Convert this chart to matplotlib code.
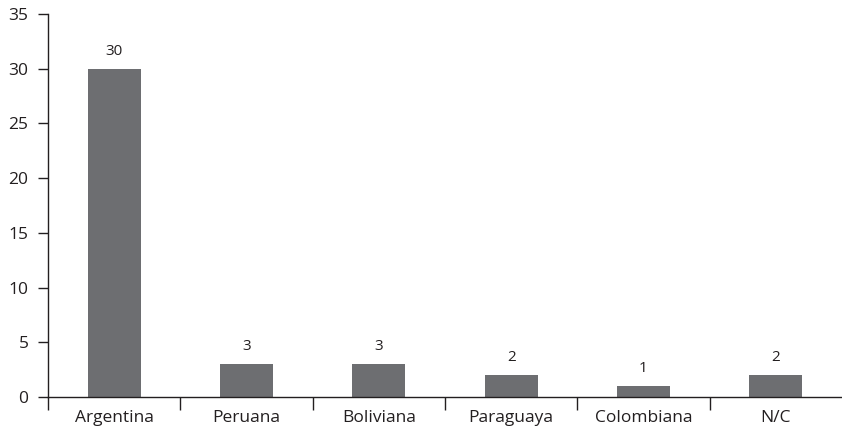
import matplotlib
matplotlib.use("Agg")
import matplotlib.pyplot as plt
import numpy as np

categories = ["Argentina", "Peruana", "Boliviana", "Paraguaya", "Colombiana", "N/C"]
values = [30, 3, 3, 2, 1, 2]
yticks = [0, 5, 10, 15, 20, 25, 30, 35]

plt.rcParams['font.family'] = ['Open Sans', 'DejaVu Sans']

fig = plt.figure(figsize=(8.42, 4.29), dpi=100)
ax = fig.add_axes([0.057, 0.0746, 0.943, 0.8927])

x = np.arange(len(categories))
bars = ax.bar(x, values, width=0.4, color="#6d6e71")
for xi, v in zip(x, values):
    ax.annotate(str(v), (xi, v), xytext=(0, 7), textcoords="offset points",
                ha="center", va="bottom", fontsize=11, color="#231f20")

ax.set_xlim(-0.5, 5.5)
ax.set_ylim(0, 35)
ax.set_yticks(yticks)
ax.set_xticks(x)
ax.set_xticklabels(categories)
ax.set_xticks(np.arange(-0.5, 5.0, 1.0), minor=True)
ax.tick_params(axis="x", which="major", length=0, pad=9.5, labelsize=12.5, labelcolor="#231f20")
ax.tick_params(axis="x", which="minor", length=9, width=1, direction="out", color="#231f20")
ax.tick_params(axis="y", length=7, width=1, direction="out", labelsize=12.5, labelcolor="#231f20", color="#231f20", pad=7)

for s in ["top", "right"]:
    ax.spines[s].set_visible(False)
for s in ["left", "bottom"]:
    ax.spines[s].set_color("#231f20")
    ax.spines[s].set_linewidth(1)

fig.savefig("out.png", dpi=100)
